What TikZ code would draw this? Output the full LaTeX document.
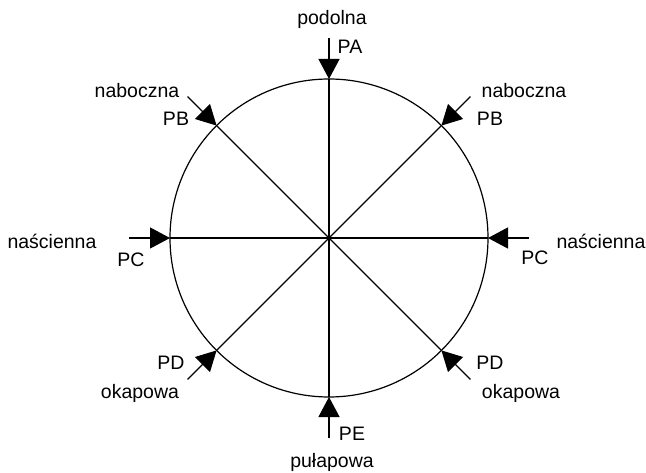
\documentclass[tikz,border=0pt]{standalone}
\usepackage{fontspec}
\setmainfont{Liberation Sans}
\usetikzlibrary{arrows.meta}
\begin{document}
\begin{tikzpicture}[x=1pt,y=-1pt,
  lbl/.style={font=\fontsize{19.5}{22}\selectfont, inner sep=0pt},
  axis/.style={line width=1.2pt, black},
  inarrow/.style={line width=1.2pt, -{Triangle[length=20pt,width=21pt]}}]
\useasboundingbox (0,0) rectangle (646,473);
\coordinate (O) at (329,238);
\node[draw, circle, line width=1.2pt, minimum size=318pt, inner sep=0pt] (circ) at (329,238) {};
% points on the circle
\coordinate (cA) at (329,79);
\coordinate (cE) at (329,397);
\coordinate (cCL) at (170,238);
\coordinate (cCR) at (488,238);
\coordinate (cBL) at (216.6,125.6);
\coordinate (cBR) at (441.4,125.6);
\coordinate (cDL) at (216.6,350.4);
\coordinate (cDR) at (441.4,350.4);
% outer ends
\coordinate (oA) at (329,38);
\coordinate (oE) at (329,438);
\coordinate (oCL) at (129,238);
\coordinate (oCR) at (529,238);
\coordinate (oBL) at (187.6,96.6);
\coordinate (oBR) at (470.4,96.6);
\coordinate (oDL) at (187.6,379.4);
\coordinate (oDR) at (470.4,379.4);
% diameters
\draw[axis] (cA) -- (cE);
\draw[axis] (cCL) -- (cCR);
\draw[axis] (cBL) -- (cDR);
\draw[axis] (cBR) -- (cDL);
% arrows
\draw[inarrow] (oA) -- (cA);
\draw[inarrow] (oE) -- (cE);
\draw[inarrow] (oCL) -- (cCL);
\draw[inarrow] (oCR) -- (cCR);
\draw[inarrow] (oBL) -- (cBL);
\draw[inarrow] (oBR) -- (cBR);
\draw[inarrow] (oDL) -- (cDL);
\draw[inarrow] (oDR) -- (cDR);
% labels
\node[lbl] (tA) at (332,19) {podolna};
\node[lbl] (pA) at (350,47) {PA};
\node[lbl] (tBL) at (137,91) {naboczna};
\node[lbl] (pBL) at (176,119) {PB};
\node[lbl] (tBR) at (524,91) {naboczna};
\node[lbl] (pBR) at (490,119) {PB};
\node[lbl] (tCL) at (52,241) {naścienna};
\node[lbl] (pCL) at (131,260) {PC};
\node[lbl] (tCR) at (601,241) {naścienna};
\node[lbl] (pCR) at (535,258) {PC};
\node[lbl] (pDL) at (171,363) {PD};
\node[lbl] (tDL) at (140,393) {okapowa};
\node[lbl] (pDR) at (490,363) {PD};
\node[lbl] (tDR) at (521,393) {okapowa};
\node[lbl] (pE) at (352,434) {PE};
\node[lbl] (tE) at (332,462) {pułapowa};
\end{tikzpicture}
\end{document}
